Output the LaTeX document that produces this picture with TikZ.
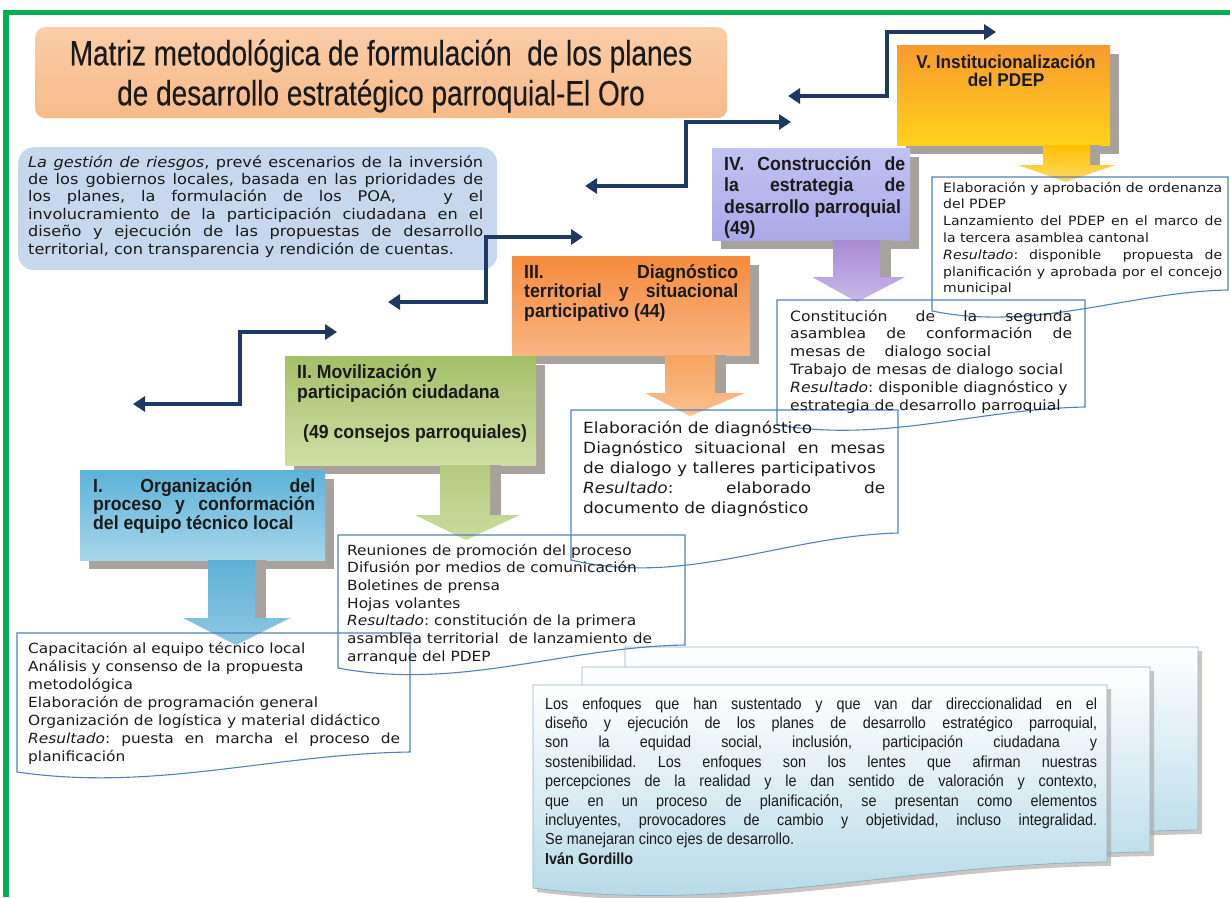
\documentclass[tikz,border=0pt]{standalone}
\usepackage{fontspec}
\setmainfont{Liberation Sans}
\newfontfamily\titlef[FakeStretch=0.8,FakeBold=0.3]{Liberation Sans}
\newfontfamily\headf[FakeStretch=0.93]{Liberation Sans}
\newfontfamily\verd[FakeStretch=1.1]{DejaVu Sans}
\newfontfamily\bodyf[FakeStretch=0.9]{Liberation Sans}
\usetikzlibrary{arrows.meta,shadows}
\frenchspacing
\definecolor{frameg}{HTML}{00B050}
\definecolor{navyc}{HTML}{1F3A62}
\definecolor{docb}{HTML}{4F81BD}
\definecolor{shd}{HTML}{A7A29B}
\definecolor{txtc}{HTML}{1A1A1A}
\definecolor{titA}{HTML}{FACDA8}
\definecolor{titB}{HTML}{F7BA88}
\definecolor{riskc}{HTML}{C7D8EE}
\definecolor{vA}{HTML}{F79A2E}\definecolor{vB}{HTML}{FFD21A}
\definecolor{ivA}{HTML}{C2C2F2}\definecolor{ivB}{HTML}{A9A9E8}
\definecolor{iiiA}{HTML}{F58B3C}\definecolor{iiiB}{HTML}{F9B583}
\definecolor{iiA}{HTML}{A3C068}\definecolor{iiB}{HTML}{CFDFA6}
\definecolor{iA}{HTML}{5DB3D8}\definecolor{iB}{HTML}{A6D6EA}
\definecolor{avA}{HTML}{FFC000}\definecolor{avB}{HTML}{FFD966}
\definecolor{aivA}{HTML}{A88CD4}\definecolor{aivB}{HTML}{C8B8EA}
\definecolor{aiiiA}{HTML}{F7A45F}\definecolor{aiiiB}{HTML}{F9C08E}
\definecolor{aiiA}{HTML}{B3CB7E}\definecolor{aiiB}{HTML}{CADC9E}
\definecolor{aiA}{HTML}{5FB0D6}\definecolor{aiB}{HTML}{8EC8E2}
\definecolor{docbl}{HTML}{B0D8E5}
\definecolor{docedge}{HTML}{8FB3C6}
\newcommand\jl[1]{\makebox[\linewidth][s]{#1}}
\newcommand\nl[1]{\mbox{#1}}
\tikzset{
 txt/.style={anchor=base west,inner sep=0pt,text=txtc},
 stepbox/.style={anchor=north west,inner sep=0pt,draw=none,
   drop shadow={shadow xshift=9pt,shadow yshift=-9pt,opacity=1,fill=shd}},
 docline/.style={draw=docb,line width=1.1pt},
 navyarrow/.style={draw=navyc,line width=4pt,
   {Triangle[length=12pt,width=15pt]}-{Triangle[length=12pt,width=15pt]}},
 blockshadow/.style={fill=shd},
 stackdoc/.style={top color=white,bottom color=docbl,draw=docedge,line width=0.8pt,
   drop shadow={shadow xshift=4pt,shadow yshift=-4pt,opacity=0.6,fill=shd}},
 headtxt/.style={txt,font=\headf\bfseries\fontsize{19}{20}\selectfont},
}
\begin{document}
\begin{tikzpicture}[x=1pt,y=-1pt]
\useasboundingbox (0,0) rectangle (1230,897);
% frame
\fill[frameg] (3,10) rectangle (1230,15);
\fill[frameg] (3,10) rectangle (9,897);
% title
\node[anchor=north west,inner sep=0pt,minimum width=692pt,minimum height=91pt,
  rounded corners=10pt,top color=titA,bottom color=titB] (title) at (35,27) {};
\node[inner sep=0pt,align=center,text=txtc,font=\titlef\fontsize{35}{40}\selectfont]
  (titletext) at (381,76) {Matriz metodológica de formulación \ de los planes\\de desarrollo estratégico parroquial-El Oro};
% riesgos box
\node[anchor=north west,inner sep=0pt,minimum width=479pt,minimum height=123pt,
  rounded corners=16pt,fill=riskc] (risk) at (18,147) {};
\node[txt,font=\verd\fontsize{14.7}{17.4}\selectfont] (risktext) at (28,167) {\parbox[t]{455pt}{%
\jl{\textit{La gestión de riesgos}, prevé escenarios de la inversión}\\
\jl{de los gobiernos locales, basada en las prioridades de}\\
\jl{los planes, la formulación de los POA, \ \ y el}\\
\jl{involucramiento de la participación ciudadana en el}\\
\jl{diseño y ejecución de las propuestas de desarrollo}\\
\nl{territorial, con transparencia y rendición de cuentas.}}};
% navy connectors
\coordinate (n1a) at (133,404); \coordinate (n1b) at (337,332);
\coordinate (n2a) at (388,302); \coordinate (n2b) at (583,237);
\coordinate (n3a) at (585,186); \coordinate (n3b) at (791,122);
\coordinate (n4a) at (788,96);  \coordinate (n4b) at (996,32);
\draw[navyarrow] (n1a) -- (240,404) |- (n1b);
\draw[navyarrow] (n2a) -- (486,302) |- (n2b);
\draw[navyarrow] (n3a) -- (686,186) |- (n3b);
\draw[navyarrow] (n4a) -- (887,96) |- (n4b);
% stacked documents
\path[stackdoc] (625,647) -- (1198,647) -- (1198,830) .. controls (998,832) and (826,874) .. (625,852) -- cycle;
\path[stackdoc] (582,667) -- (1150,667) -- (1150,852) .. controls (951,854) and (781,896) .. (582,874) -- cycle;
\path[stackdoc] (533,685) -- (1107,685) -- (1107,862) .. controls (906,864) and (734,914) .. (533,888) -- cycle;
\node[txt,font=\bodyf\fontsize{16}{19.4}\selectfont] (quote) at (545,709) {\parbox[t]{552pt}{%
\jl{Los enfoques que han sustentado y que van dar direccionalidad en el}\\
\jl{diseño y ejecución de los planes de desarrollo estratégico parroquial,}\\
\jl{son la equidad social, inclusión, participación ciudadana y}\\
\jl{sostenibilidad. Los enfoques son los lentes que afirman nuestras}\\
\jl{percepciones de la realidad y le dan sentido de valoración y contexto,}\\
\jl{que en un proceso de planificación, se presentan como elementos}\\
\jl{incluyentes, provocadores de cambio y objetividad, incluso integralidad.}\\
\nl{Se manejaran cinco ejes de desarrollo.}\\
\textbf{Iván Gordillo}}};
% step boxes
\node[stepbox,minimum width=213pt,minimum height=100pt,top color=vA,bottom color=vB] (s5) at (897,45) {};
\node[stepbox,minimum width=198pt,minimum height=92pt,top color=ivA,bottom color=ivB] (s4) at (712,148) {};
\node[stepbox,minimum width=238pt,minimum height=99pt,top color=iiiA,bottom color=iiiB] (s3) at (512,256) {};
\node[stepbox,minimum width=251pt,minimum height=109pt,top color=iiA,bottom color=iiB] (s2) at (285,356) {};
\node[stepbox,minimum width=245pt,minimum height=90pt,top color=iA,bottom color=iB] (s1) at (80,470) {};
% step texts
\node[headtxt,anchor=base,font=\headf\bfseries\fontsize{18.5}{18}\selectfont] (t5) at (1006,68) {\parbox[t]{205pt}{\centering V. Institucionalización\\del PDEP}};
\node[headtxt,font=\headf\bfseries\fontsize{19}{21.5}\selectfont] (t4) at (724,170) {\parbox[t]{181pt}{%
\jl{IV. Construcción de}\\ \jl{la estrategia de}\\ \nl{desarrollo parroquial}\\ (49)}};
\node[headtxt,font=\headf\bfseries\fontsize{19}{19.5}\selectfont] (t3) at (524,278) {\parbox[t]{214pt}{%
\jl{III. Diagnóstico}\\ \jl{territorial y situacional}\\ participativo (44)}};
\node[headtxt,font=\headf\bfseries\fontsize{19}{20}\selectfont] (t2) at (297,378) {\parbox[t]{235pt}{%
II. Movilización y\\ \nl{participación ciudadana}\\[20pt] \hspace*{6pt}\nl{(49 consejos parroquiales)}}};
\node[headtxt,font=\headf\bfseries\fontsize{19}{18.5}\selectfont] (t1) at (93,492) {\parbox[t]{222pt}{%
\jl{I. Organización del}\\ \jl{proceso y conformación}\\ \nl{del equipo técnico local}}};
% block arrows
\fill[blockshadow] (1090,145) rectangle (1100,165);
\shade[top color=avA,bottom color=avB] (1043,145) -- (1090,145) -- (1090,165) -- (1115,165) -- (1066,182) -- (1018,165) -- (1043,165) -- cycle;
\fill[blockshadow] (880,240) rectangle (891,277);
\shade[top color=aivA,bottom color=aivB] (833,240) -- (880,240) -- (880,277) -- (905,277) -- (857,302) -- (812,277) -- (833,277) -- cycle;
\fill[blockshadow] (715,355) rectangle (726,393);
\shade[top color=aiiiA,bottom color=aiiiB] (665,355) -- (715,355) -- (715,393) -- (745,393) -- (690,416) -- (645,393) -- (665,393) -- cycle;
\fill[blockshadow] (490,465) rectangle (501,515);
\shade[top color=aiiA,bottom color=aiiB] (440,465) -- (490,465) -- (490,515) -- (520,515) -- (466,540) -- (415,515) -- (440,515) -- cycle;
\fill[blockshadow] (255,560) rectangle (266,618);
\shade[top color=aiA,bottom color=aiB] (208,560) -- (255,560) -- (255,618) -- (290,618) -- (236,645) -- (183,618) -- (208,618) -- cycle;
% document outlines
\draw[docline] (932,177) -- (1228,177) -- (1228,290) .. controls (1128,292) and (1036,332) .. (932,311) -- cycle;
\draw[docline] (777,300) -- (1085,300) -- (1085,407) .. controls (977,409) and (885,443) .. (777,425) -- cycle;
\draw[docline] (571,410) -- (898,410) -- (898,533) .. controls (784,536) and (685,587) .. (571,560) -- cycle;
\draw[docline] (338,535) -- (685,535) -- (685,645) .. controls (564,647) and (459,691) .. (338,668) -- cycle;
\draw[docline] (17,633) -- (410,633) -- (410,752) .. controls (272,754) and (155,792) .. (17,772) -- cycle;
% document texts
\node[txt,font=\verd\fontsize{12.8}{16.8}\selectfont] (d5) at (943,192) {\parbox[t]{279pt}{%
\jl{Elaboración y aprobación de ordenanza}\\ del PDEP\\
\jl{Lanzamiento del PDEP en el marco de}\\ \nl{la tercera asamblea cantonal}\\
\jl{\textit{Resultado}: disponible \ propuesta de}\\
\jl{planificación y aprobada por el concejo}\\ municipal}};
\node[txt,font=\verd\fontsize{14.2}{17.8}\selectfont] (d4) at (790,321) {\parbox[t]{282pt}{%
\jl{Constitución de la segunda}\\ \jl{asamblea de conformación de}\\
\nl{mesas de \quad dialogo social}\\ \nl{Trabajo de mesas de dialogo social}\\
\nl{\textit{Resultado}: disponible diagnóstico y}\\ \nl{estrategia de desarrollo parroquial}}};
\node[txt,font=\verd\fontsize{15.4}{20}\selectfont] (d3) at (583,433) {\parbox[t]{302pt}{%
\nl{Elaboración de diagnóstico}\\ \jl{Diagnóstico situacional en mesas}\\
\nl{de dialogo y talleres participativos}\\ \jl{\textit{Resultado}: elaborado de}\\
\nl{documento de diagnóstico}}};
\node[txt,font=\verd\fontsize{14}{17.7}\selectfont] (d2) at (347,555) {\parbox[t]{335pt}{%
\nl{Reuniones de promoción del proceso}\\ \nl{Difusión por medios de comunicación}\\
Boletines de prensa\\ Hojas volantes\\ \nl{\textit{Resultado}: constitución de la primera}\\
\nl{asamblea territorial \ de lanzamiento de}\\ \nl{arranque del PDEP}}};
\node[txt,font=\verd\fontsize{14}{18}\selectfont] (d1) at (28,653) {\parbox[t]{372pt}{%
\nl{Capacitación al equipo técnico local}\\ \nl{Análisis y consenso de la propuesta}\\ metodológica\\
\nl{Elaboración de programación general}\\ \nl{Organización de logística y material didáctico}\\
\jl{\textit{Resultado}: puesta en marcha el proceso de}\\ planificación}};
\end{tikzpicture}
\end{document}
